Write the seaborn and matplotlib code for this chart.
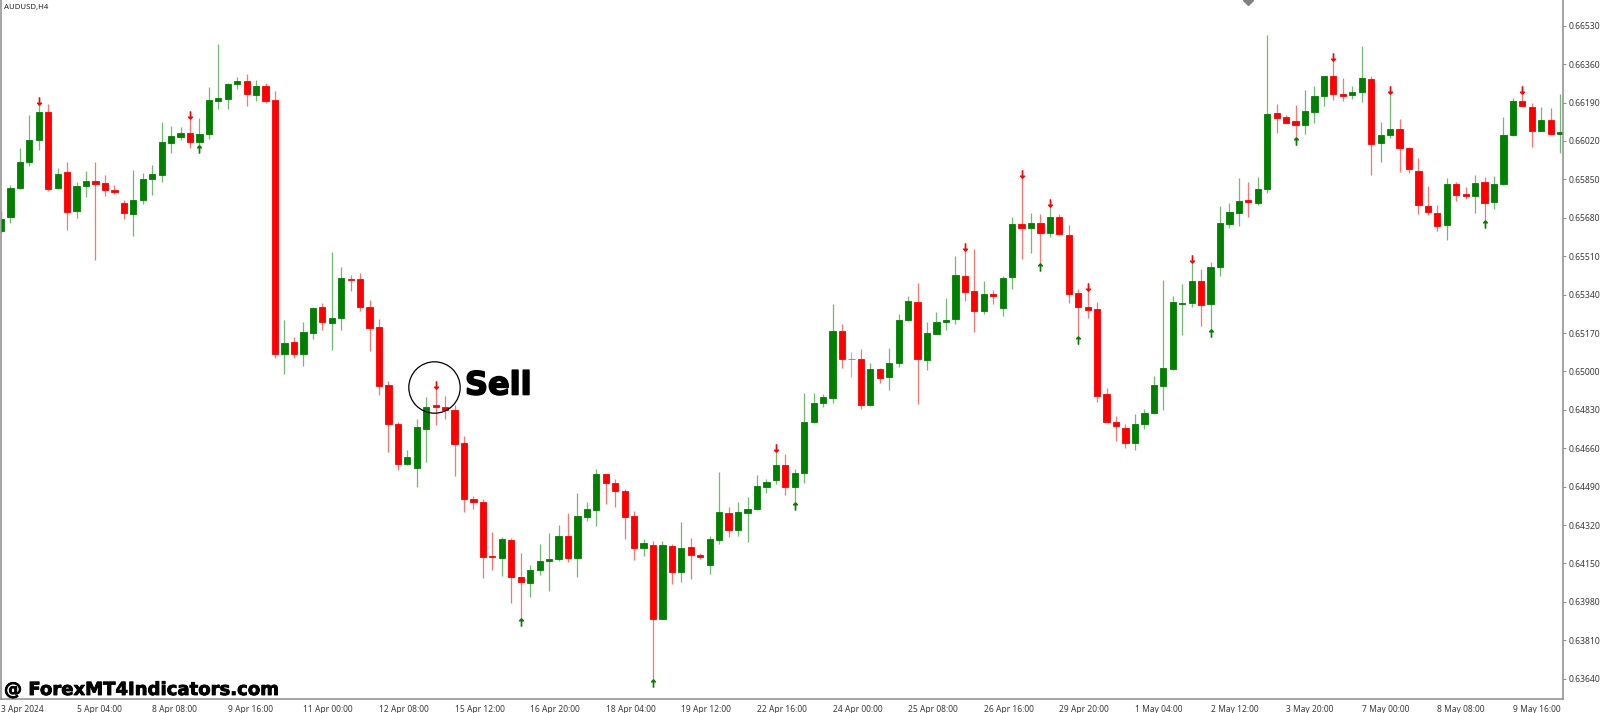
"""AUDUSD H4 candlestick chart with buy and sell signal arrows."""

import matplotlib
matplotlib.use("Agg")
import matplotlib.patheffects as pe
import matplotlib.pyplot as plt
import numpy as np
import pandas as pd
import seaborn as sns

# prices in points (1e-5)
opens = [
    65623, 65684, 65810, 65927, 66023, 66148, 65810, 65881, 65709, 65819,
    65841, 65834, 65805, 65744, 65698, 65759, 65850, 65871, 66013, 66039,
    66054, 66016, 66049, 66196, 66206, 66272, 66285, 66224, 66265, 66200,
    65079, 65130, 65079, 65172, 65284, 65216, 65235, 65411, 65408, 65287,
    65195, 64939, 64769, 64592, 64571, 64747, 64850, 64844, 64828, 64682,
    64437, 64421, 64184, 64176, 64253, 64089, 64064, 64123, 64161, 64170,
    64271, 64173, 64356, 64386, 64545, 64508, 64471, 64359, 64219, 64232,
    63906, 64228, 64111, 64223, 64187, 64145, 64253, 64374, 64297, 64375,
    64393, 64490, 64520, 64585, 64488, 64551, 64775, 64859, 64882, 65177,
    65053, 65056, 64850, 65012, 64975, 65037, 65229, 65307, 65052, 65167,
    65219, 65231, 65422, 65354, 65269, 65341, 65282, 65418, 65651, 65635,
    65655, 65614, 65683, 65604, 65346, 65287, 65276, 64898, 64777, 64750,
    64681, 64768, 64815, 64937, 65011, 65299, 65302, 65399, 65297, 65464,
    65654, 65703, 65757, 65746, 65806, 66142, 66125, 66110, 66089, 66150,
    66221, 66306, 66226, 66225, 66235, 66293, 66010, 66047, 66073, 65990,
    65887, 65734, 65703, 65647, 65831, 65784, 65778, 65838, 65750, 65828,
    66047, 66197, 66170, 66066, 66113, 66052,
]
closes = [
    65676, 65812, 65927, 66024, 66150, 65807, 65875, 65707, 65821, 65844,
    65830, 65803, 65793, 65701, 65757, 65850, 65872, 66017, 66041, 66054,
    66016, 66049, 66200, 66209, 66274, 66285, 66226, 66262, 66197, 65079,
    65127, 65077, 65175, 65282, 65217, 65237, 65412, 65403, 65285, 65191,
    64936, 64768, 64592, 64622, 64754, 64844, 64841, 64831, 64679, 64436,
    64422, 64179, 64179, 64256, 64088, 64066, 64122, 64163, 64170, 64271,
    64175, 64359, 64390, 64547, 64508, 64470, 64356, 64219, 64240, 63905,
    64231, 64111, 64219, 64188, 64178, 64256, 64377, 64297, 64377, 64393,
    64492, 64510, 64585, 64490, 64551, 64777, 64859, 64886, 65177, 65055,
    65053, 64853, 65012, 64969, 65036, 65229, 65310, 65055, 65169, 65217,
    65229, 65425, 65353, 65269, 65344, 65334, 65415, 65652, 65635, 65655,
    65614, 65683, 65607, 65343, 65285, 65273, 64890, 64775, 64757, 64681,
    64766, 64815, 64942, 65017, 65306, 65302, 65399, 65294, 65464, 65656,
    65704, 65754, 65748, 65806, 66139, 66123, 66101, 66092, 66151, 66221,
    66306, 66228, 66219, 66238, 66297, 66008, 66048, 66075, 65990, 65896,
    65735, 65704, 65645, 65830, 65782, 65778, 65836, 65747, 65830, 66045,
    66197, 66176, 66066, 66111, 66049, 66058,
]
highs = [
    65712, 65825, 65990, 66135, 66184, 66182, 65902, 65928, 65838, 65889,
    65928, 65868, 65825, 65759, 65892, 65878, 65915, 66104, 66086, 66082,
    66135, 66120, 66260, 66449, 66275, 66302, 66318, 66290, 66278, 66240,
    65228, 65152, 65219, 65284, 65304, 65530, 65461, 65425, 65434, 65316,
    65232, 64957, 64777, 64654, 64790, 64887, 64942, 64892, 64853, 64713,
    64449, 64437, 64288, 64266, 64262, 64197, 64144, 64238, 64284, 64322,
    64374, 64461, 64423, 64566, 64548, 64526, 64480, 64383, 64257, 64248,
    64251, 64238, 64334, 64262, 64195, 64271, 64555, 64399, 64424, 64445,
    64541, 64523, 64654, 64634, 64570, 64904, 64904, 64902, 65300, 65211,
    65086, 65099, 65037, 65014, 65104, 65256, 65332, 65390, 65217, 65262,
    65323, 65509, 65549, 65542, 65402, 65359, 65421, 65682, 65874, 65703,
    65697, 65744, 65695, 65650, 65365, 65375, 65307, 64927, 64802, 64766,
    64813, 64834, 64979, 65403, 65332, 65387, 65498, 65453, 65484, 65734,
    65747, 65855, 65838, 65859, 66491, 66182, 66136, 66178, 66247, 66265,
    66308, 66392, 66299, 66265, 66439, 66306, 66104, 66246, 66119, 65995,
    65943, 65821, 65737, 65855, 65837, 65818, 65868, 65859, 65864, 66126,
    66209, 66249, 66188, 66170, 66166, 66227,
]
lows = [
    65614, 65656, 65806, 65911, 65979, 65797, 65807, 65626, 65681, 65774,
    65495, 65778, 65785, 65675, 65599, 65741, 65779, 65840, 65965, 66023,
    65989, 65980, 66029, 66162, 66162, 66252, 66175, 66197, 66190, 65058,
    64990, 65058, 65026, 65144, 65184, 65096, 65185, 65358, 65266, 65090,
    64897, 64642, 64564, 64586, 64487, 64597, 64762, 64791, 64539, 64378,
    64389, 64085, 64122, 64095, 63973, 63902, 64001, 64097, 64026, 64163,
    64157, 64089, 64338, 64316, 64414, 64400, 64257, 64166, 64185, 63629,
    63904, 64058, 64069, 64079, 64169, 64105, 64234, 64265, 64271, 64247,
    64386, 64464, 64501, 64454, 64396, 64507, 64771, 64842, 64862, 65015,
    64975, 64835, 64848, 64947, 64918, 65018, 65222, 64856, 65008, 65165,
    65185, 65211, 65313, 65174, 65256, 65300, 65247, 65365, 65499, 65523,
    65461, 65596, 65605, 65303, 65147, 65238, 64866, 64774, 64691, 64660,
    64654, 64743, 64813, 64831, 65005, 65160, 65287, 65203, 65172, 65424,
    65633, 65645, 65684, 65735, 65791, 66057, 66099, 66013, 66052, 66101,
    66175, 66203, 66198, 66207, 66191, 65871, 65927, 66033, 65884, 65880,
    65697, 65694, 65623, 65582, 65754, 65763, 65700, 65656, 65719, 65826,
    66044, 66175, 65995, 66064, 66048, 65967,
]

sell_bars = [4, 20, 46, 82, 102, 108, 111, 115, 126, 141, 147, 161]
sell_prices = [66195, 66135, 64940, 64660, 65549, 65874, 65745, 65375, 65498, 66392, 66246, 66244]
buy_bars = [21, 55, 69, 84, 110, 114, 128, 137, 157]
buy_prices = [65986, 63891, 63622, 64406, 65461, 65139, 65172, 66018, 65651]

time_labels = [
    "3 Apr 2024", "5 Apr 04:00", "8 Apr 08:00", "9 Apr 16:00", "11 Apr 00:00",
    "12 Apr 08:00", "15 Apr 12:00", "16 Apr 20:00", "18 Apr 04:00", "19 Apr 12:00",
    "22 Apr 16:00", "24 Apr 00:00", "25 Apr 08:00", "26 Apr 16:00", "29 Apr 20:00",
    "1 May 04:00", "2 May 12:00", "3 May 20:00", "7 May 00:00", "8 May 08:00",
    "9 May 16:00",
]
price_ticks = [
    0.66530, 0.66360, 0.66190, 0.66020, 0.65850, 0.65680, 0.65510, 0.65340, 0.65170,
    0.65000, 0.64830, 0.64660, 0.64490, 0.64320, 0.64150, 0.63980, 0.63810, 0.63640,
]

BULL = "#008000"
BEAR = "#ff0000"
DOJI = "#808080"
FRAME = "#8c8c8c"
TEXT = "#3a3a3a"

sns.set_theme(style="white")
plt.rcParams["font.family"] = ["Noto Sans", "DejaVu Sans"]

df = pd.DataFrame({"open": opens, "close": closes, "high": highs, "low": lows}) / 1e5
df["bar"] = np.arange(len(df))
df["bottom"] = df[["open", "close"]].min(axis=1)
df["body"] = (df["open"] - df["close"]).abs()
df["colour"] = np.where(df["close"] > df["open"], BULL, np.where(df["close"] < df["open"], BEAR, DOJI))

fig = plt.figure(figsize=(16, 7.13), dpi=100)
ax = fig.add_axes([1 / 1600, 14 / 713, 1562 / 1600, 699 / 713])

# wicks first, then the bodies on top
ax.vlines(df["bar"], df["low"], df["high"], colors=df["colour"], linewidth=0.9, alpha=0.55, zorder=1)

for colour, part in df.groupby("colour"):
    sns.barplot(
        data=part, x="bar", y="body", bottom=part["bottom"].values, native_scale=True,
        color=colour, saturation=1, width=0.66, errorbar=None,
        edgecolor=colour, linewidth=0.6, ax=ax, zorder=2,
    )

sns.scatterplot(x=sell_bars, y=np.array(sell_prices) / 1e5, marker="$\u2193$", s=30, color=BEAR,
                linewidth=0.6, edgecolor=BEAR, ax=ax, zorder=3)
sns.scatterplot(x=buy_bars, y=np.array(buy_prices) / 1e5, marker="$\u2191$", s=30, color=BULL,
                linewidth=0.6, edgecolor=BULL, ax=ax, zorder=3)

# grey level marker cut off by the top of the window
ax.plot([132], [0.66644], marker="D", markersize=5.5, color="#808080", clip_on=True, zorder=3)

# circle round the sell signal
ax.plot([45.8], [0.64931], marker="o", markersize=37, markerfacecolor="none",
        markeredgecolor="black", markeredgewidth=0.9, zorder=4)

ax.set_xlim(0, 165.3)
ax.set_ylim(0.63550, 0.66644)
ax.set_xlabel("")
ax.set_ylabel("")

ax.set_xticks(np.arange(len(time_labels)) * 8)
ax.set_xticklabels(time_labels, ha="left", fontsize=6.1, color=TEXT)
ax.yaxis.tick_right()
ax.set_yticks(price_ticks)
ax.set_yticklabels([f"{p:.5f}" for p in price_ticks], fontsize=6.2, color=TEXT)
ax.tick_params(axis="both", length=2.5, width=0.7, color=FRAME, pad=1.5)

ax.spines["top"].set_visible(False)
for side in ["left", "right", "bottom"]:
    ax.spines[side].set_color(FRAME)
    ax.spines[side].set_linewidth(1.1)

ax.text(3 / 1562, 1 - 7 / 699, "AUDUSD,H4", transform=ax.transAxes, fontsize=5.6, color="#222222",
        ha="left", va="center")
sell_text = ax.text(464 / 1562, 1 - 386 / 699, "Sell", transform=ax.transAxes, fontsize=23, fontweight="bold",
                    family="DejaVu Sans", color="black", ha="left", va="center")
sell_text.set_path_effects([pe.withStroke(linewidth=1.2, foreground="black")])
mark_text = ax.text(3 / 1562, 1 - 690 / 699, "@ ForexMT4Indicators.com", transform=ax.transAxes, fontsize=13,
                    fontweight="bold", family="DejaVu Sans", color="black", ha="left", va="center")
mark_text.set_path_effects([pe.withStroke(linewidth=0.6, foreground="black")])

fig.savefig("out.png", dpi=100)
